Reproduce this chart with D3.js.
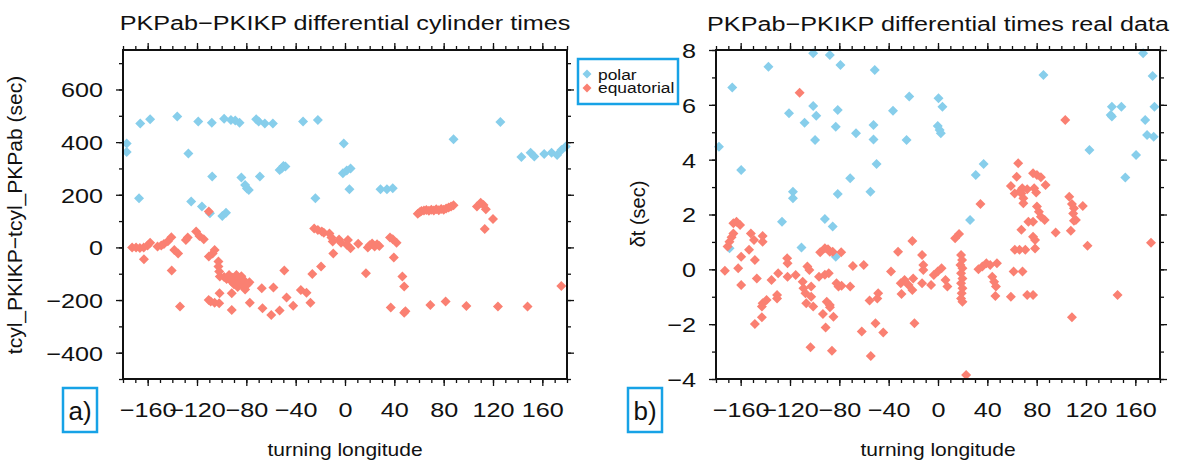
<!DOCTYPE html>
<html lang="en">
<head>
<meta charset="UTF-8">
<title>PKPab-PKIKP differential times</title>
<script src="https://d3js.org/d3.v7.min.js"></script>
<style>
  body { margin: 0; background: #fff; }
  svg text { font-family: "Liberation Sans", Arial, Helvetica, sans-serif; fill: #111; }
</style>
</head>
<body>
<svg width="1181" height="464"></svg>
<script>
// [turning longitude, value]
const cylPolar = [
  [-177,395],[-177,362],[-166,471],[-158,487],[-136,497],[-127,357],[-119,478],[-108,474],
  [-98,489],[-92.5,484],[-89,482],[-85.5,474],[-72,487],[-70,478],[-65,471],[-58.5,471],
  [-34,478],[-22,484],[-1,395],[88,411],[126,476],[143,343],[150.5,360],[153.5,345],
  [161.5,355],[167.5,360],[172,351],[175.5,370],[179,383],
  [-167,187],[-124.7,174],[-116,155],[-109.5,130],[-99.5,119],[-96.5,132],[-107.7,269],
  [-84,266],[-81,237],[-79.5,224],[-78,218],[-69,269],[-53,294],[-51.4,300],[-49.9,309],
  [-48.3,307],[-24,187],[-1.7,282],[1.4,292],[4.5,300],[3.6,221],[28.8,221],[34,221],[38.7,225]
];
const cylEquatorial = [
  [-172.6,0],[-169.4,0],[-166.3,-2],[-163.2,0],[-160.1,7],[-158,18],[-163,-45],[-152,3],
  [-149,7],[-146.8,13],[-143.6,23],[-140.8,39],[-140.5,-88],[-138.4,-10],[-135.3,-23],
  [-129,28],[-127.5,38],[-120.7,60],[-118,43],[-114.5,31],[-110.4,136],[-110.4,-35],
  [-107.3,-23],[-105.7,-10],[-102.6,-54],[-102.6,-73],[-102,-92],[-101.5,-111],
  [-98,-112],[-96,-120],[-94,-105],[-92,-130],[-91,-115],[-90,-140],[-89,-125],[-88,-105],
  [-87,-150],[-86,-118],[-85,-135],[-84,-110],[-83,-145],[-82,-125],[-81,-160],[-79,-140],
  [-77.5,-132],[-101.7,-174],[-91.8,-174],[-67.5,-155],[-58,-152],[-49.2,-88],[-47.4,-190],
  [-35.8,-162],[-31.2,-172],[-26.5,-101],[-19.4,-73],
  [-25,72],[-22,66],[-18.8,60],[-17.2,56],[-12.6,53],[-11,38],[-10,22],[-9.5,-23],[-4.8,30],
  [-3.2,18],[1.4,10],[4.5,-3],[10.7,14],[2.4,28],[17,-98],
  [18.5,0],[20,8],[22,15],[24,3],[26,12],[27.8,5],[36.5,38],[38.7,31],[41.8,18],[39.6,-38],
  [46.5,-111],[48,-149],
  [59,128],[60.5,134],[62,138],[64,140],[66,142],[68,139],[70,143],[72,140],[74,145],[76,141],
  [78,146],[80,143],[82,148],[84,152],[86,155],[88,160],
  [107,155],[110,170],[112.3,161],[114.2,145],[113.3,70],[120,108],[175.4,-147],
  [-133.8,-225],[-108.9,-206],[-105.7,-210],[-102,-212],[-110.5,-200],[-91.8,-238],
  [-77.2,-210],[-66.9,-231],[-59.8,-257],[-53,-240],[-42,-222],[-28,-210],[37.1,-228],
  [48,-248],[49,-243],[69.2,-219],[81.6,-206],[98.4,-223],[124,-225],[148,-225]
];
const realPolar = [
  [-177.6,4.47],[-166.8,6.63],[-137.5,7.39],[-120.8,5.69],[-108.2,5.35],[-101.2,7.88],
  [-101.2,5.96],[-98.7,5.6],[-99.7,4.72],[-87.7,7.82],[-79.1,7.45],[-81.3,5.81],[-82.9,5.2],
  [-66.5,4.96],[-52.3,5.26],[-52.3,4.74],[-51.3,7.27],[-36.5,5.78],[-23.3,6.3],[-25.5,4.72],
  [0.4,6.24],[3.6,5.93],[-0.2,5.23],[1.3,5.08],[2.3,4.96],[85.5,7.09],[122.8,4.35],
  [141,5.93],[140,5.63],[141,5.57],[148.7,5.93],[160.6,4.17],[166.3,7.88],[168,5.45],
  [169.5,4.9],[174.9,4.84],[174,7.05],[175.5,5.93],
  [-159.6,3.62],[-169,0.77],[-126.5,1.74],[-117.6,2.83],[-117.6,2.59],[-110.7,0.8],
  [-91.7,1.84],[-85.4,1.56],[-82.9,0.46],[-81.3,2.75],[-71.2,3.32],[-54.8,2.83],[-49.8,3.84],
  [26,1.8],[30.6,3.44],[37,3.84],[151.9,3.35]
];
const realEquatorial = [
  [-112.2,6.44],[103.2,5.45],
  [-172.8,-0.05],[-170.6,0.83],[-169.1,1.01],[-167.4,1.17],[-165.9,1.31],[-165.9,1.68],
  [-163.4,1.74],[-160.5,1.62],[-162,0.04],[-159.6,0.46],[-159.6,-0.57],[-153.2,0.71],
  [-151.7,1.31],[-149.2,1.07],[-148.5,0.34],[-146.9,-0.33],[-142.2,1.22],[-142.2,1.01],
  [-142.2,-1.24],[-139,-1.12],[-135,-0.39],[-129.6,-0.14],[-130.5,-0.94],[-130.5,-1.06],
  [-122.3,0.4],[-122,0.22],[-122,-0.27],[-115.4,-0.21],[-109.7,-0.45],[-105.9,0.1],
  [-104.3,-0.02],[-109.1,-0.69],[-107.5,-0.87],[-102.8,-0.63],[-102.8,-1.0],[-106.8,-1.24],
  [-101.2,-1.36],[-96.5,-0.27],[-95.5,0.62],[-91.7,0.77],[-89.2,0.73],[-87.7,0.64],
  [-91.7,-0.2],[-88.6,-0.14],[-90.2,-1.18],[-87.7,-1.3],[-85.4,0.64],[-82.3,-0.51],
  [-80.7,-0.63],[-78.2,-0.6],[-78.5,0.62],[-71.2,-0.63],[-69,0.12],[-60.2,0.16],
  [-55.5,-1.14],[-49.2,-1.06],[-48.5,-0.87],[-38.1,-0.08],[-32.4,0.64],[-30.2,-0.51],
  [-27.1,-0.39],[-23.9,-0.57],[-20.1,-0.33],[-29.6,-0.9],[-20.8,-0.75],[-20.8,1.03],
  [-12.9,0.52],[-11.9,0.16],[-11.9,-0.02],[-12.9,-0.51],[-5.6,-0.57],[-3.4,-0.21],
  [-0.2,-0.08],[2.9,0.04],[6.1,-0.39],[7.6,-0.63],[13.9,1.13],[17.1,1.29],
  [18.7,0.52],[19.5,0.34],[18.2,0.16],[19.8,0.04],[18.7,-0.14],[19.8,-0.33],[18.7,-0.51],
  [19.8,-0.69],[19.2,-0.87],[18.7,-1.06],[19.8,-1.18],
  [32.8,0],[36,0.1],[39.2,0.22],[42.3,0.16],[34.4,2.38],[44,-0.27],[45.5,-0.45],[47,-0.63],
  [46.5,-0.97],[47.8,0.22],[59.1,-1.0],[61.3,-0.08],[62.3,0.71],[66.1,0.71],[70.8,0.71],
  [78.7,0.76],[68.5,-0.08],[67.6,1.44],[72.3,-0.94],[77.1,-0.94],
  [59.1,3.04],[63.8,3.38],[65,3.87],[62.2,2.77],[67.6,2.77],[69.2,2.59],[69.2,2.41],
  [68.3,2.96],[72.3,2.92],[66.5,2.85],[77.1,3.5],[80.2,3.44],[83.4,3.36],[87.2,3.08],
  [78,2.96],[79.6,2.8],[80.2,2.29],[81.8,2.1],[83.4,1.92],[86.5,1.8],[73.3,1.74],[77.1,1.74],
  [77.1,1.19],[78.7,1.07],[95.4,1.34],[106.4,2.65],[108.6,2.38],[110.2,2.23],[109.6,2.04],
  [111.8,1.8],[110.2,1.77],[107.7,1.41],[117.4,2.31],[121.2,0.86],[145.6,-0.94],[172.7,0.97],
  [-148.5,-1.99],[-142.8,-1.75],[-142.8,-1.36],[-103.4,-2.84],[-93.3,-1.63],[-91.1,-2.12],
  [-87.6,-1.38],[-84.8,-1.73],[-86,-2.97],[-61.8,-2.27],[-54.5,-3.16],[-50.7,-1.97],
  [-44.4,-2.3],[-19.1,-1.97],[22.8,-3.85],[108.6,-1.75]
];

const xMajor = d3.range(-160, 161, 40);
const xMinor = d3.range(-180, 181, 10);
const yMajorA = [-400, -200, 0, 200, 400, 600];
const yMinorA = d3.range(-500, 751, 100);
const yMajorB = [-4, -2, 0, 2, 4, 6, 8];
const yMinorB = d3.range(-4, 8.1, 1);

const SX = 1.2; // text in the reference is drawn wide
const polarColor = "#87ceeb", equColor = "#fa8072", boxColor = "#17a2e6";
const plotTop = 50, plotBottom = 379;

const svg = d3.select("svg");
const diamond = d3.symbol().type(d3.symbolSquare).size(50);

function panel(x, y, yMajor, yMinor, polar, equ) {
  const [x0, x1] = x.range();
  const g = svg.append("g");
  const fmt = d3.format("d");

  function ticks(axis, transform, vals, size, labels) {
    const a = g.append("g").attr("transform", transform)
      .call(axis.tickValues(vals).tickSize(size).tickFormat(labels ? fmt : ""));
    a.select(".domain").remove();
    a.selectAll("line").attr("stroke", "#111").attr("stroke-width", 1.3);
    return a;
  }
  ticks(d3.axisBottom(x), `translate(0,${plotBottom})`, xMinor, 4, false);
  ticks(d3.axisTop(x), `translate(0,${plotTop})`, xMinor, 4, false);
  ticks(d3.axisTop(x), `translate(0,${plotTop})`, xMajor, 7, false);
  ticks(d3.axisLeft(y), `translate(${x0},0)`, yMinor, 4, false);
  ticks(d3.axisRight(y), `translate(${x1},0)`, yMinor, 4, false);
  ticks(d3.axisRight(y), `translate(${x1},0)`, yMajor, 7, false);

  const bx = ticks(d3.axisBottom(x), `translate(0,${plotBottom})`, xMajor, 7, true);
  bx.selectAll("text")
    .attr("y", 38).attr("dy", null)
    .attr("font-size", 21)
    .attr("transform", `scale(${SX},1)`);
  const ly = ticks(d3.axisLeft(y), `translate(${x0},0)`, yMajor, 7, true);
  ly.selectAll("text")
    .attr("x", -20 / SX).attr("dy", "0.35em")
    .attr("font-size", 21)
    .attr("text-anchor", "end")
    .attr("transform", `scale(${SX},1)`);
  g.selectAll("g").attr("font-family", null).attr("font-size", null);

  const pts = g.append("g");
  pts.selectAll(".p").data(polar).join("path")
    .attr("d", diamond)
    .attr("transform", d => `translate(${x(d[0])},${y(d[1])}) rotate(45)`)
    .attr("fill", polarColor);
  pts.selectAll(".e").data(equ).join("path")
    .attr("d", diamond)
    .attr("transform", d => `translate(${x(d[0])},${y(d[1])}) rotate(45)`)
    .attr("fill", equColor);

  g.append("rect")
    .attr("x", x0).attr("y", plotTop)
    .attr("width", x1 - x0).attr("height", plotBottom - plotTop)
    .attr("fill", "none").attr("stroke", "#111").attr("stroke-width", 2);
  return g;
}

function wideText(cx, y, str, size) {
  return svg.append("text")
    .attr("x", cx / SX).attr("y", y)
    .attr("transform", `scale(${SX},1)`)
    .attr("text-anchor", "middle")
    .attr("font-size", size)
    .text(str);
}

function tagBox(x, label) {
  svg.append("rect").attr("x", x).attr("y", 388).attr("width", 34).attr("height", 44)
    .attr("fill", "none").attr("stroke", boxColor).attr("stroke-width", 2.5);
  svg.append("text").attr("x", x + 17).attr("y", 420)
    .attr("text-anchor", "middle").attr("font-size", 26).text(label);
}

// panel a
const xa = d3.scaleLinear().domain([-180, 180]).range([123, 567]);
const ya = d3.scaleLinear().domain([-500, 750]).range([plotBottom, plotTop]);
panel(xa, ya, yMajorA, yMinorA, cylPolar, cylEquatorial);
wideText(345, 30, "PKPab\u2212PKIKP differential cylinder times", 21);
wideText(345, 456, "turning longitude", 17.5);
svg.append("text")
  .attr("transform", "translate(15,215) rotate(-90)")
  .attr("dy", "0.35em").attr("text-anchor", "middle").attr("font-size", 21)
  .text("tcyl_PKIKP\u2212tcyl_PKPab (sec)");
tagBox(63, "a)");

// panel b
const xb = d3.scaleLinear().domain([-180, 180]).range([716, 1160]);
const yb = d3.scaleLinear().domain([-4, 8]).range([plotBottom, plotTop]);
panel(xb, yb, yMajorB, yMinorB, realPolar, realEquatorial);
wideText(938, 31, "PKPab\u2212PKIKP differential times real data", 21);
wideText(938, 456, "turning longitude", 17.5);
svg.append("text")
  .attr("transform", "translate(638,214) rotate(-90)")
  .attr("dy", "0.35em").attr("text-anchor", "middle").attr("font-size", 20)
  .text("\u03b4t (sec)");
tagBox(628, "b)");

// legend
const legend = svg.append("g");
legend.append("rect").attr("x", 578).attr("y", 59).attr("width", 100).attr("height", 45)
  .attr("fill", "#fff").attr("stroke", boxColor).attr("stroke-width", 2.5);
[["polar", polarColor, 74, 80], ["equatorial", equColor, 88, 93]].forEach(([name, c, cy, by]) => {
  legend.append("path").attr("d", d3.symbol().type(d3.symbolSquare).size(40))
    .attr("transform", `translate(587,${cy}) rotate(45)`).attr("fill", c);
  legend.append("text").attr("x", 598 / SX).attr("y", by)
    .attr("transform", `scale(${SX},1)`).attr("font-size", 14.5).text(name);
});
</script>
</body>
</html>
